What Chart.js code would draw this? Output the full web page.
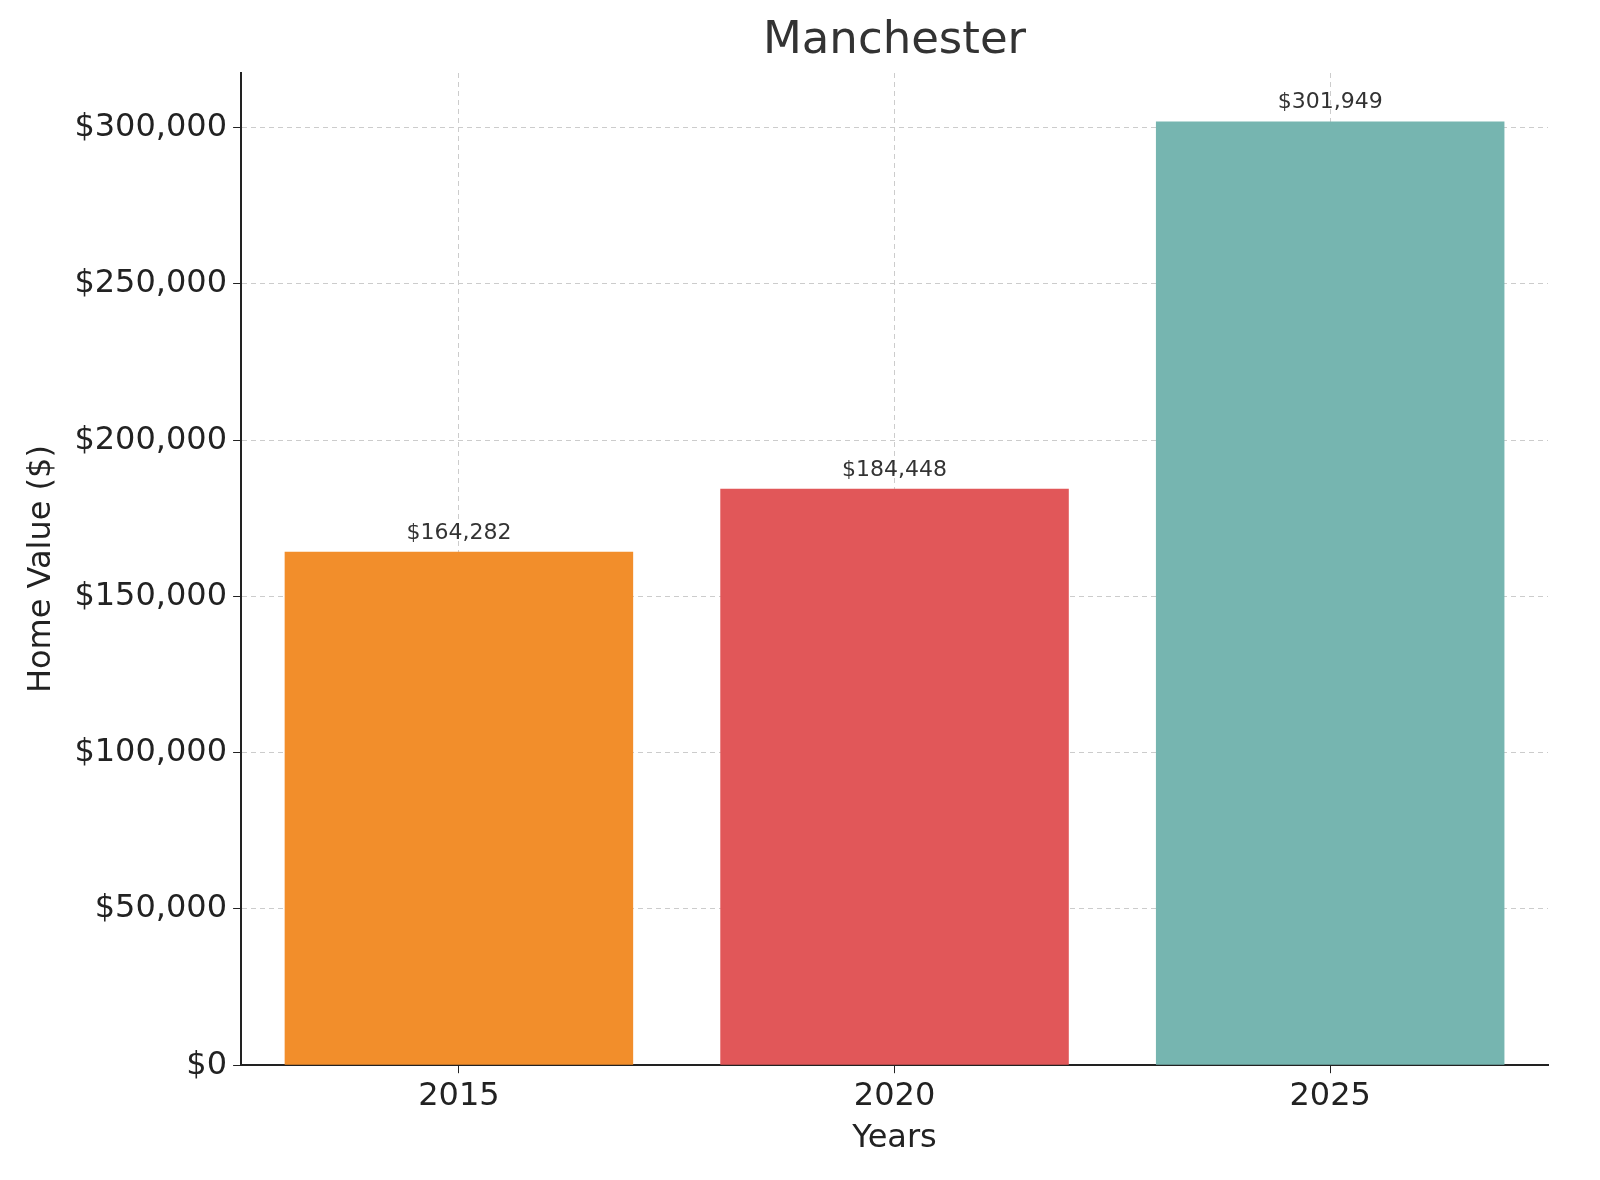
<!DOCTYPE html>
<html>
<head>
<meta charset="utf-8">
<script src="https://cdn.jsdelivr.net/npm/chart.js@4/dist/chart.umd.min.js"></script>
<style>
  html, body { margin: 0; padding: 0; background: #fff; }
  #wrap { width: 1600px; height: 1180px; }
</style>
</head>
<body>
<div id="wrap"><canvas id="chart" width="1600" height="1180"></canvas></div>
<script>
// ---------- DATA ----------
const years = ["2015", "2020", "2025"];
const homeValues = [164282, 184448, 301949];
const barColors = ["#f28e2b", "#e15759", "#76b5b0"];
const chartTitle = "Manchester";

const money = v => "$" + Math.round(v).toLocaleString("en-US");

// value labels above each bar + title centred over the plot area
const barLabels = {
  id: "barLabels",
  afterDatasetsDraw(chart) {
    const ctx = chart.ctx;
    const meta = chart.getDatasetMeta(0);
    ctx.save();
    ctx.font = "22px 'DejaVu Sans'";
    ctx.fillStyle = "#333";
    ctx.textAlign = "center";
    ctx.textBaseline = "bottom";
    meta.data.forEach((bar, i) => {
      ctx.fillText(money(homeValues[i]), bar.x, bar.y - 8);
    });
    const a = chart.chartArea;
    ctx.font = "45px 'DejaVu Sans'";
    ctx.textBaseline = "middle";
    ctx.fillText(chartTitle, (a.left + a.right) / 2, 41);
    ctx.restore();
  }
};

const dash = [5, 4];

new Chart(document.getElementById("chart"), {
  type: "bar",
  data: {
    labels: years,
    datasets: [{
      data: homeValues,
      backgroundColor: barColors,
      categoryPercentage: 0.8,
      barPercentage: 1.0
    }]
  },
  options: {
    responsive: false,
    animation: false,
    layout: { padding: { left: 18, right: 52, top: 73, bottom: 18 } },
    plugins: {
      legend: { display: false },
      tooltip: { enabled: false }
    },
    scales: {
      x: {
        z: 1,
        grid: { offset: false, color: "#cccccc", lineWidth: 1, tickColor: "#222", tickLength: 8 },
        border: { color: "#222", width: 2, dash: dash },
        ticks: { color: "#222", font: { family: "DejaVu Sans", size: 32 }, padding: 4 },
        title: { display: true, text: "Years", color: "#222", font: { family: "DejaVu Sans", size: 32 }, padding: { top: 0 } }
      },
      y: {
        z: 1,
        min: 0,
        max: 317500,
        afterBuildTicks(axis) {
          axis.ticks = [0, 50000, 100000, 150000, 200000, 250000, 300000].map(v => ({ value: v }));
        },
        grid: { color: "#cccccc", lineWidth: 1, tickColor: "#222", tickLength: 8 },
        border: { color: "#222", width: 2, dash: dash },
        ticks: { color: "#222", font: { family: "DejaVu Sans", size: 32 }, padding: 6, callback: v => money(v) },
        title: { display: true, text: "Home Value ($)", color: "#222", font: { family: "DejaVu Sans", size: 32 }, padding: { bottom: 8 } }
      }
    }
  },
  plugins: [barLabels]
});
</script>
</body>
</html>
